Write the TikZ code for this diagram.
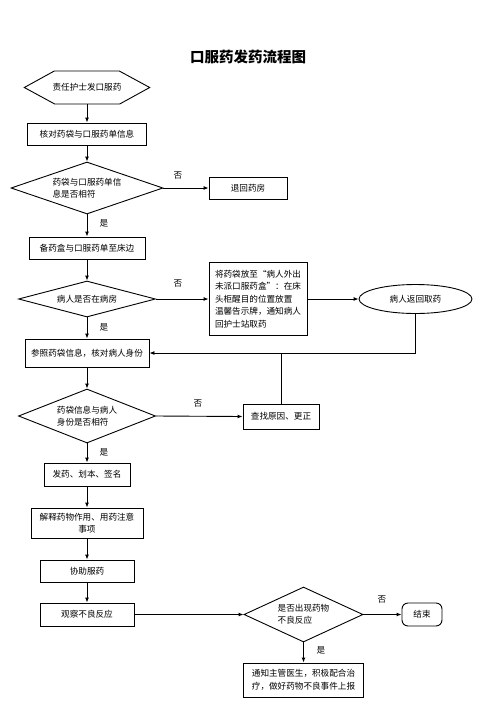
\documentclass[tikz,border=0pt]{standalone}
\usepackage{fontspec}
\newfontfamily\cjk{Noto Sans CJK SC}
\usetikzlibrary{shapes.geometric,arrows.meta}

\begin{document}
\begin{tikzpicture}[x=1pt,y=-1pt,
	every node/.style={font=\cjk\fontsize{8.6}{12.5}\selectfont},
	box/.style={draw,line width=0.9pt,inner sep=2pt,align=center},
	dia/.style={draw,diamond,line width=0.9pt,inner sep=0pt,align=left},
	lab/.style={inner sep=0pt},
	arr/.style={line width=0.9pt,-{Latex[length=5pt,width=4pt]}},
	link/.style={line width=0.9pt}]
		
		% page size of the reference
		\useasboundingbox (0,0) rectangle (496,702);
		
		% title
		\node[font=\cjk\bfseries\fontsize{14.5}{16}\selectfont] (title) at (248,57) {口服药发药流程图};
		
		% start: hexagon drawn round the node
		\node[minimum width=125pt,minimum height=33pt,inner sep=0pt] (start) at (87,87.5) {责任护士发口服药};
		\draw[link] (start.west) -- ++(30,-16.5) -- ++(65,0) -- (start.east) -- ++(-30,16.5) -- ++(-65,0) -- cycle;
		
		% main column
		\node[box,minimum width=119pt,minimum height=22pt] (check) at (87,134) {核对药袋与口服药单信息};
		\node[dia,aspect=2.9,minimum width=152pt,minimum height=52pt] (d1) at (87,188) {药袋与口服药单信\\息是否相符};
		\node[box,minimum width=116pt,minimum height=22pt] (prepare) at (87,248) {备药盒与口服药单至床边};
		\node[dia,aspect=3.8,minimum width=137pt,minimum height=36pt] (d2) at (87,299) {病人是否在病房};
		\node[box,minimum width=124pt,minimum height=28pt] (verify) at (87,353) {参照药袋信息，核对病人身份};
		\node[dia,aspect=2.5,minimum width=137pt,minimum height=54pt] (d3) at (87,416) {药袋信息与病人\\身份是否相符};
		\node[box,minimum width=86pt,minimum height=23pt] (give) at (87,474.5) {发药、划本、签名};
		\node[box,minimum width=112pt,minimum height=30pt] (explain) at (87,523) {解释药物作用、用药注意\\事项};
		\node[box,minimum width=94pt,minimum height=22pt] (assist) at (87,571) {协助服药};
		\node[box,minimum width=94pt,minimum height=23pt] (observe) at (87,614.5) {观察不良反应};
		
		% side branches
		\node[box,minimum width=78pt,minimum height=22pt] (back) at (248,188) {退回药房};
		\node[box,minimum width=98pt,minimum height=73pt,align=left,inner xsep=5pt] (notice) at (258,299)
			{将药袋放至“病人外出\\未派口服药盒”：在床\\头柜醒目的位置放置\\温馨告示牌，通知病人\\回护士站取药};
		\node[draw,ellipse,line width=0.9pt,minimum width=113pt,minimum height=29pt] (ret) at (415.5,299) {病人返回取药};
		\node[box,minimum width=76pt,minimum height=25pt] (correct) at (281,416.5) {查找原因、更正};
		\node[dia,aspect=2.15,minimum width=119pt,minimum height=55pt] (d4) at (303.5,614.5) {是否出现药物\\不良反应};
		\node[box,rounded corners=6pt,minimum width=40pt,minimum height=23pt] (finish) at (422,614.5) {结束};
		\node[box,minimum width=120pt,minimum height=34pt] (report) at (303.5,680) {通知主管医生，积极配合治\\疗，做好药物不良事件上报};
		
		% arrows down the main column
		\draw[arr] (start.south) -- (check.north);
		\draw[arr] (check.south) -- (d1.north);
		\draw[arr] (d1.south) -- (prepare.north);
		\draw[arr] (prepare.south) -- (d2.north);
		\draw[arr] (d2.south) -- (verify.north);
		\draw[arr] (verify.south) -- (d3.north);
		\draw[arr] (d3.south) -- (give.north);
		\draw[arr] (give.south) -- (explain.north);
		\draw[arr] (explain.south) -- (assist.north);
		\draw[arr] (assist.south) -- (observe.north);
		
		% arrows to the side
		\draw[arr] (d1.east) -- (back.west);
		\draw[arr] (d2.east) -- (notice.west);
		\draw[arr] (notice.east) -- (ret.west);
		\draw[arr] (ret.south) |- (verify.east);
		\draw[link] (correct.north) -- (correct.north |- verify.east);
		\draw[arr] (d3.east) -- (correct.west);
		\draw[arr] (observe.east) -- (d4.west);
		\draw[arr] (d4.east) -- (finish.west);
		\draw[arr] (d4.south) -- (report.north);
		
		% yes / no labels
		\node[lab] (no1) at (178,175) {否};
		\node[lab] (yes1) at (104,223) {是};
		\node[lab] (no2) at (178,283) {否};
		\node[lab] (yes2) at (104,327) {是};
		\node[lab] (no3) at (198,403) {否};
		\node[lab] (yes3) at (104,452) {是};
		\node[lab] (no4) at (382,599) {否};
		\node[lab] (yes4) at (321,650) {是};
		
		\end{tikzpicture}
\end{document}
